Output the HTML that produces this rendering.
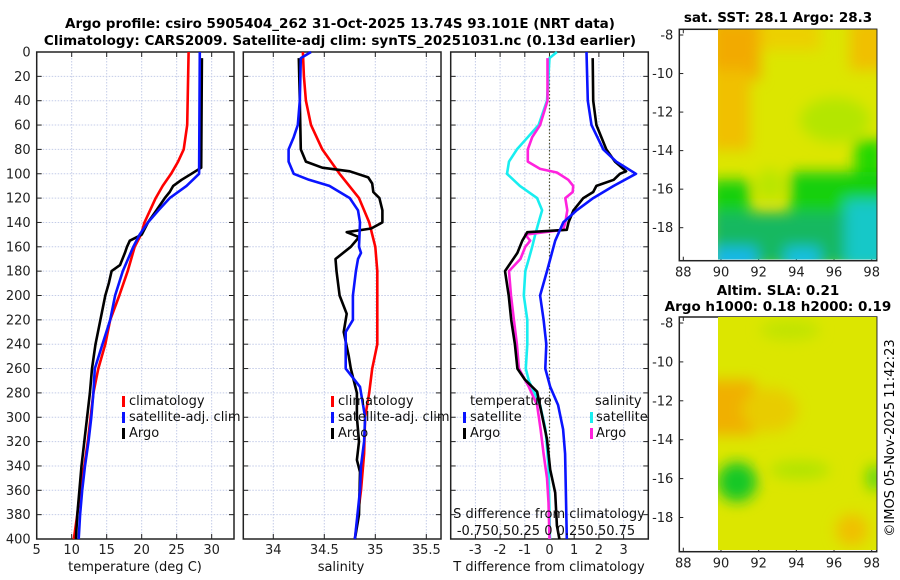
<!DOCTYPE html>
<html><head><meta charset="utf-8">
<style>
html,body{margin:0;padding:0;background:#fff;}
svg{display:block;font-family:"DejaVu Sans","Liberation Sans",sans-serif;}
</style></head>
<body>
<svg id="fig" width="900" height="580" viewBox="0 0 900 580" xmlns="http://www.w3.org/2000/svg">
<defs>
<filter id="blur8" x="-50%" y="-50%" width="200%" height="200%"><feGaussianBlur stdDeviation="7"/></filter>
<clipPath id="clipMap1"><rect x="718" y="29.5" width="158.5" height="230"/></clipPath>
<clipPath id="clipMap2"><rect x="718" y="317" width="158.5" height="233"/></clipPath>
</defs>
<g font-weight="bold" font-size="13.5" text-anchor="middle" fill="#000">
<text x="340" y="28">Argo profile: csiro 5905404_262 31-Oct-2025 13.74S 93.101E (NRT data)</text>
<text x="340" y="45">Climatology: CARS2009. Satellite-adj clim: synTS_20251031.nc (0.13d earlier)</text>
</g>
<g id="plots"></g>
<g>
<text x="778" y="22" font-size="13.5" font-weight="bold" text-anchor="middle">sat. SST: 28.1 Argo: 28.3</text>
<g clip-path="url(#clipMap1)">
<rect x="718" y="29" width="160" height="232" fill="#dce600"/>
<g filter="url(#blur8)">
<rect x="710" y="20" width="50" height="60" fill="#f2aa00"/>
<rect x="710" y="70" width="40" height="80" fill="#f0c000"/>
<rect x="760" y="20" width="60" height="30" fill="#ecd000"/>
<rect x="850" y="20" width="40" height="50" fill="#f0c000"/>
<ellipse cx="835" cy="120" rx="35" ry="22" fill="#b4e600"/>
<rect x="855" y="140" width="30" height="40" fill="#20d800"/>
<rect x="710" y="180" width="40" height="35" fill="#18d010"/>
<rect x="790" y="172" width="100" height="40" fill="#14d010"/>
<ellipse cx="770" cy="185" rx="14" ry="16" fill="#b8e600"/>
<rect x="710" y="212" width="180" height="55" fill="#14b860"/>
<rect x="845" y="200" width="45" height="70" fill="#14c8c8"/>
<rect x="712" y="247" width="45" height="25" fill="#18b8e8"/>
<rect x="785" y="247" width="35" height="25" fill="#18c0e0"/>
</g>
</g>
</g>
<g>
<text x="778" y="295" font-size="13.5" font-weight="bold" text-anchor="middle">Altim. SLA: 0.21</text>
<text x="778" y="311" font-size="13.5" font-weight="bold" text-anchor="middle">Argo h1000: 0.18 h2000: 0.19</text>
<g clip-path="url(#clipMap2)">
<rect x="718" y="317" width="160" height="235" fill="#dce600"/>
<g filter="url(#blur8)">
<rect x="705" y="380" width="50" height="55" fill="#f0b000"/>
<ellipse cx="770" cy="410" rx="28" ry="22" fill="#e8cc00"/>
<ellipse cx="737" cy="482" rx="20" ry="20" fill="#18c828"/>
<ellipse cx="800" cy="470" rx="30" ry="9" fill="#b0e400"/>
<ellipse cx="875" cy="478" rx="9" ry="13" fill="#60d810"/>
<ellipse cx="852" cy="530" rx="16" ry="16" fill="#f0c000"/>
<ellipse cx="790" cy="330" rx="30" ry="10" fill="#c0e400"/>
</g>
</g>
</g>
<text transform="translate(894,438) rotate(-90)" font-size="13" text-anchor="middle">©IMOS 05-Nov-2025 11:42:23</text>
</svg>
<script>
// ---- data: temperature panel ----
const climTDepth = [0,60,80,90,100,110,120,140,150,160,180,200,220,240,260,280,300,320,340,360,380,400];
const climTemp   = [26.7,26.5,26.0,25.2,24.2,23.0,22.0,20.4,19.9,19.0,18.0,16.8,15.5,14.8,13.8,13.1,12.7,12.3,11.8,11.2,10.8,10.3];
const satTDepth  = [0,100,110,120,130,140,150,160,180,200,220,240,260,280,300,320,340,360,380,400];
const satTemp    = [28.3,28.2,26.4,24.0,22.4,20.9,19.7,18.8,17.3,16.2,15.5,14.4,13.3,13.1,12.8,12.4,11.9,11.5,11.2,11.0];
const argoTDepth = [5,95,100,105,110,115,120,130,140,150,155,160,165,175,180,190,200,220,240,260,280,300,320,340,360,380,400];
const argoTemp   = [28.6,28.5,27.1,25.7,24.5,24.0,23.3,22.1,20.9,20.0,18.3,17.9,17.6,16.9,15.7,15.3,14.8,14.1,13.4,12.9,12.6,12.2,11.8,11.4,11.1,10.8,10.6];
// ---- data: salinity panel ----
const climSDepth = [0,20,40,60,80,100,120,140,160,180,200,240,260,280,300,330,360,400];
const climSal    = [34.29,34.30,34.32,34.37,34.48,34.65,34.84,34.94,35.0,35.02,35.02,35.02,34.97,34.94,34.90,34.89,34.86,34.80];
const satSDepth  = [0,5,40,60,70,80,90,100,105,110,120,130,140,160,165,170,180,200,220,230,260,275,290,300,320,340,360,400];
const satSal     = [34.37,34.27,34.26,34.24,34.2,34.15,34.15,34.2,34.35,34.55,34.75,34.83,34.85,34.84,34.86,34.83,34.81,34.78,34.78,34.71,34.71,34.85,34.88,34.9,34.89,34.86,34.85,34.80];
const argoSDepth = [5,40,80,90,95,98,103,108,115,120,130,140,145,148,152,160,170,180,200,215,230,250,260,280,300,320,335,345,380,400];
const argoSal    = [34.25,34.26,34.27,34.32,34.48,34.75,34.93,34.97,34.98,35.04,35.07,35.07,34.96,34.72,34.84,34.76,34.61,34.62,34.65,34.72,34.69,34.74,34.76,34.82,34.82,34.84,34.82,34.85,34.84,34.80];
// ---- data: difference panel ----
const satTdDepth  = [0,40,60,80,90,100,110,120,130,140,155,180,200,220,240,260,275,290,310,330,400];
const satTdiff    = [1.5,1.55,1.7,2.18,2.7,3.5,2.6,1.77,1.1,0.56,0.23,-0.1,-0.38,-0.24,-0.13,-0.17,0.03,0.35,0.55,0.63,0.7];
const argoTdDepth = [5,40,60,80,90,98,100,105,110,115,120,130,140,146,148,155,165,180,200,220,240,260,269,279,318,343,362,389,400];
const argoTdiff   = [1.75,1.77,1.9,2.3,2.65,3.1,2.85,2.6,1.9,1.77,1.37,0.97,0.77,0.7,-0.9,-1.1,-1.3,-1.8,-1.65,-1.55,-1.4,-1.3,-1.0,-0.5,-0.1,0.03,0.23,0.3,0.4];
const satSdDepth  = [0,5,40,60,70,80,90,100,110,120,130,140,150,160,170,180,200,220,240,260,270,290,310,340,400];
const satSdiff    = [0.075,0,-0.025,-0.11,-0.22,-0.33,-0.41,-0.43,-0.3,-0.125,-0.075,-0.11,-0.145,-0.175,-0.21,-0.245,-0.26,-0.225,-0.225,-0.24,-0.21,-0.095,-0.04,-0.01,0.005];
const argoSdDepth = [5,40,60,70,80,90,96,99,105,110,115,120,130,140,146,150,155,160,170,180,200,220,240,260,275,290,310,330,350,370,400];
const argoSdiff   = [-0.02,-0.02,-0.095,-0.175,-0.22,-0.22,-0.095,0.075,0.19,0.24,0.235,0.16,0.18,0.16,0.14,-0.245,-0.195,-0.245,-0.295,-0.41,-0.39,-0.36,-0.33,-0.31,-0.21,-0.125,-0.09,-0.06,-0.025,-0.01,0];
// ---- tick labels ----
const depthTicks = [0,20,40,60,80,100,120,140,160,180,200,220,240,260,280,300,320,340,360,380,400];
const tempTicks = [5,10,15,20,25,30];
const salTicks = [34,34.5,35,35.5];
const diffTicks = [-3,-2,-1,0,1,2,3];
const lonTicks = [88,90,92,94,96,98];
const latTicks = [-8,-10,-12,-14,-16,-18];
// ---- map marker ----
const argoLon = 93.1, argoLat = -13.75;

const NS = "http://www.w3.org/2000/svg";
const root = document.getElementById('plots');
function mk(tag, attrs, parent){const e=document.createElementNS(NS,tag);for(const k in attrs)e.setAttribute(k,attrs[k]);(parent||root).appendChild(e);return e;}

const Y0=52, Y1=539;
function yD(d){return Y0+(d/400)*(Y1-Y0);}
function lin(d0,d1,r0,r1){return v=>r0+(v-d0)/(d1-d0)*(r1-r0);}
const xT = lin(5,33.19,36.7,234);
const xS = lin(33.706,35.644,243.3,441);
const xD = lin(-4,4,450.7,648.3);

function panel(name,x0,x1,xs,ticks,labels,yLabels){
  const g=mk('g',{});
  
  
  mk('rect',{x:x0,y:Y0,width:x1-x0,height:Y1-Y0,fill:'#fff'},g);
  depthTicks.forEach(d=>{
    mk('line',{x1:x0,x2:x1,y1:yD(d),y2:yD(d),stroke:'#c4cce8','stroke-width':1,'stroke-dasharray':'1.5,1.5'},g);
    mk('line',{x1:x0,x2:x0+5,y1:yD(d),y2:yD(d),stroke:'#222'},g);
    mk('line',{x1:x1-5,x2:x1,y1:yD(d),y2:yD(d),stroke:'#222'},g);
    if(yLabels){const t=mk('text',{x:x0-6,y:yD(d)+4.5,'font-size':13,'text-anchor':'end',fill:'#222'},g);t.textContent=d;
      
      }
  });
  ticks.forEach((v,i)=>{
    const x=xs(v);
    mk('line',{x1:x,x2:x,y1:Y0,y2:Y1,stroke:'#c4cce8','stroke-width':1,'stroke-dasharray':'1.5,1.5'},g);
    mk('line',{x1:x,x2:x,y1:Y0,y2:Y0+5,stroke:'#222'},g);
    mk('line',{x1:x,x2:x,y1:Y1-5,y2:Y1,stroke:'#222'},g);
    const t=mk('text',{x:x,y:554,'font-size':13,'text-anchor':'middle',fill:'#222'},g);t.textContent=labels[i];
    
    
  });
  mk('rect',{x:x0,y:Y0,width:x1-x0,height:Y1-Y0,fill:'none',stroke:'#222','stroke-width':1.5},g);
  return g;
}
function line(g,name,xs,depths,vals,color,mult){
  const pts=depths.map((d,i)=>xs(vals[i]*(mult||1)).toFixed(1)+','+yD(d).toFixed(1)).join(' ');
  const p=mk('polyline',{points:pts,fill:'none',stroke:color,'stroke-width':2.6,'stroke-linejoin':'round'},g);
  
  
}
function txt(g,name,x,y,s,opts){
  const t=mk('text',Object.assign({x:x,y:y,'font-size':13,fill:'#111'},opts||{}),g);t.textContent=s;
  
  
  return t;
}
function legendMark(g,x,y,c){mk('rect',{x:x,y:y-10,width:3,height:11,fill:c},g);}

// Panel 1
const g1=panel('temperature-panel',36.7,234,xT,tempTicks,tempTicks.map(String),true);
line(g1,'temp-climatology-line',xT,climTDepth,climTemp,'#ff0000');
line(g1,'temp-argo-line',xT,argoTDepth,argoTemp,'#000');
line(g1,'temp-satellite-line',xT,satTDepth,satTemp,'#0a14ff');
txt(g1,'temp-x-axis-title',135,571,'temperature (deg C)',{'text-anchor':'middle'});
legendMark(g1,122,406,'#ff0000');txt(g1,'legend-climatology',129,405,'climatology');
legendMark(g1,122,422,'#0a14ff');txt(g1,'legend-satellite-adj',129,421,'satellite-adj. clim');
legendMark(g1,122,438,'#000');txt(g1,'legend-argo',129,437,'Argo');

// Panel 2
const g2=panel('salinity-panel',243.3,441,xS,salTicks,salTicks.map(String),false);
line(g2,'sal-climatology-line',xS,climSDepth,climSal,'#ff0000');
line(g2,'sal-argo-line',xS,argoSDepth,argoSal,'#000');
line(g2,'sal-satellite-line',xS,satSDepth,satSal,'#0a14ff');
txt(g2,'sal-x-axis-title',341,571,'salinity',{'text-anchor':'middle'});
legendMark(g2,331,406,'#ff0000');txt(g2,'legend-climatology-2',338,405,'climatology');
legendMark(g2,331,422,'#0a14ff');txt(g2,'legend-satellite-adj-2',338,421,'satellite-adj. clim');
legendMark(g2,331,438,'#000');txt(g2,'legend-argo-2',338,437,'Argo');

// Panel 3
const g3=panel('difference-panel',450.7,648.3,xD,diffTicks,diffTicks.map(String),false);
mk('line',{x1:xD(0),x2:xD(0),y1:Y0,y2:Y1,stroke:'#555530','stroke-width':1.2,'stroke-dasharray':'1.5,2'},g3);
line(g3,'sdiff-satellite-line',xD,satSdDepth,satSdiff,'#18eef0',4);
line(g3,'sdiff-argo-line',xD,argoSdDepth,argoSdiff,'#ff22dd',4);
line(g3,'tdiff-argo-line',xD,argoTdDepth,argoTdiff,'#000');
line(g3,'tdiff-satellite-line',xD,satTdDepth,satTdiff,'#0a14ff');
txt(g3,'tdiff-x-axis-title',549,571,'T difference from climatology',{'text-anchor':'middle'});
txt(g3,'sdiff-axis-title',549,518,'S difference from climatology',{'text-anchor':'middle'});
txt(g3,'sdiff-tick-labels',546,535,'-0.750.50.25 0 0.250.50.75',{'text-anchor':'middle'});
txt(g3,'legend-temperature-header',470,405,'temperature');
txt(g3,'legend-salinity-header',595,405,'salinity');
legendMark(g3,463,422,'#0a14ff');txt(g3,'legend-t-satellite',470,421,'satellite');
legendMark(g3,463,438,'#000');txt(g3,'legend-t-argo',470,437,'Argo');
legendMark(g3,590,422,'#18eef0');txt(g3,'legend-s-satellite',596,421,'satellite');
legendMark(g3,590,438,'#ff22dd');txt(g3,'legend-s-argo',596,437,'Argo');

// Map axes
function mapAxes(name,top,bottom,latY0,latScale){
  const g=mk('g',{});
  
  
  const L=679.3,R=876.7;
  const xl=lin(88,98,683.3,871.7);
  const yl=v=>latY0+(-8-v)*latScale;
  mk('rect',{x:L,y:top,width:R-L,height:bottom-top,fill:'none',stroke:'#222','stroke-width':1.5},g);
  lonTicks.forEach(v=>{const x=xl(v);
    mk('line',{x1:x,x2:x,y1:bottom,y2:bottom-4,stroke:'#222'},g);
    mk('line',{x1:x,x2:x,y1:top,y2:top+4,stroke:'#222'},g);
    txt(g,'lon-tick-label',x,bottom+16,String(v),{'text-anchor':'middle',fill:'#222'});});
  latTicks.forEach(v=>{const y=yl(v);
    mk('line',{x1:L,x2:L+4,y1:y,y2:y,stroke:'#222'},g);
    mk('line',{x1:R-4,x2:R,y1:y,y2:y,stroke:'#222'},g);
    txt(g,'lat-tick-label',L-6,y+4.5,String(v),{'text-anchor':'end',fill:'#222'});});
  const c=mk('ellipse',{cx:xl(argoLon),cy:yl(argoLat),rx:5.5,ry:6,fill:'none',stroke:'#000','stroke-width':1.5},g);
  
  
  mk('rect',{x:843,y:latY0+4*latScale-3,width:1,height:2,fill:'#000'},g);
  mk('rect',{x:848,y:latY0+4.2*latScale,width:3,height:3,fill:'none',stroke:'#000','stroke-width':0.8},g);
}
mapAxes('sst-map-axes',29.3,260.7,35,19.27);
mapAxes('sla-map-axes',317,551.7,323,19.45);
</script>
</body></html>
